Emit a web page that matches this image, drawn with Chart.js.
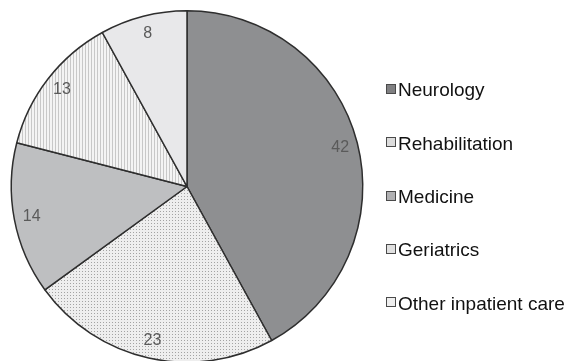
<!DOCTYPE html>
<html>
<head>
<meta charset="utf-8">
<script src="https://cdn.jsdelivr.net/npm/chart.js@4/dist/chart.umd.min.js"></script>
<style>
  html, body { margin: 0; padding: 0; background: #fff; overflow: hidden; }
  #wrap { position: relative; width: 566px; height: 363px; }
</style>
</head>
<body>
<div id="wrap"><canvas id="c"></canvas></div>
<script>
// Share of patients by discharging service (%)
const categories = ['Neurology', 'Rehabilitation', 'Medicine', 'Geriatrics', 'Other inpatient care'];
const shares = [42, 23, 14, 13, 8];

// Fine dot screen fill
function dotPattern() {
  const t = document.createElement('canvas');
  t.width = 3; t.height = 3;
  const g = t.getContext('2d');
  g.fillStyle = '#eeeeee';
  g.fillRect(0, 0, 3, 3);
  g.fillStyle = '#a3a3a3';
  g.fillRect(1, 1, 1, 1);
  return t;
}
// Thin vertical hatching fill
function stripePattern() {
  const t = document.createElement('canvas');
  t.width = 3; t.height = 3;
  const g = t.getContext('2d');
  g.fillStyle = '#f4f4f4';
  g.fillRect(0, 0, 3, 3);
  g.fillStyle = '#c8c8c8';
  g.fillRect(1, 0, 1, 3);
  return t;
}

const ctx = document.getElementById('c').getContext('2d');
const fills = [
  '#8e8f91',
  ctx.createPattern(dotPattern(), 'repeat'),
  '#bebfc1',
  ctx.createPattern(stripePattern(), 'repeat'),
  '#e8e8ea'
];
const legendBoxFills = ['#808082', '#dcdcdc', '#b0b0b2', '#e0e0e0', '#eeeeee'];

// Value labels placed near the rim of each slice
const sliceLabels = {
  id: 'sliceLabels',
  afterDatasetsDraw(chart) {
    const c = chart.ctx;
    const meta = chart.getDatasetMeta(0);
    c.save();
    c.font = '16px "Liberation Sans", Arial, sans-serif';
    c.fillStyle = '#5a5a5a';
    c.textAlign = 'center';
    c.textBaseline = 'middle';
    meta.data.forEach((arc, i) => {
      const p = arc.getProps(['x', 'y', 'startAngle', 'endAngle', 'outerRadius'], true);
      const mid = (p.startAngle + p.endAngle) / 2;
      const r = p.outerRadius * 0.9;
      c.fillText(String(chart.data.datasets[0].data[i]), p.x + Math.cos(mid) * r, p.y + Math.sin(mid) * r);
    });
    c.restore();
  }
};

// Legend column at the right
const sideLegend = {
  id: 'sideLegend',
  afterDraw(chart) {
    const c = chart.ctx;
    const labels = chart.data.labels;
    const x0 = 386, firstCenter = 89.5, step = 53.3, box = 9;
    c.save();
    c.font = '19px "Liberation Sans", Arial, sans-serif';
    c.textAlign = 'left';
    c.textBaseline = 'alphabetic';
    labels.forEach((lab, i) => {
      const cy = firstCenter + i * step;
      const by = Math.round(cy - box / 2) - 0.5;
      c.fillStyle = legendBoxFills[i];
      c.fillRect(x0 + 0.5, by, box, box);
      c.strokeStyle = '#4a4a4a';
      c.lineWidth = 1;
      c.strokeRect(x0 + 0.5, by, box, box);
      c.fillStyle = '#111';
      c.fillText(lab, x0 + 12, cy + 6.8);
    });
    c.restore();
  }
};

new Chart(ctx, {
  type: 'pie',
  data: {
    labels: categories,
    datasets: [{
      data: shares,
      backgroundColor: fills,
      borderColor: '#2e2e2e',
      borderWidth: 1.5
    }]
  },
  options: {
    responsive: true,
    maintainAspectRatio: false,
    animation: false,
    layout: { padding: { left: 10, right: 202, top: 10, bottom: 0 } },
    plugins: {
      legend: { display: false },
      tooltip: { enabled: false }
    }
  },
  plugins: [sliceLabels, sideLegend]
});
</script>
</body>
</html>
